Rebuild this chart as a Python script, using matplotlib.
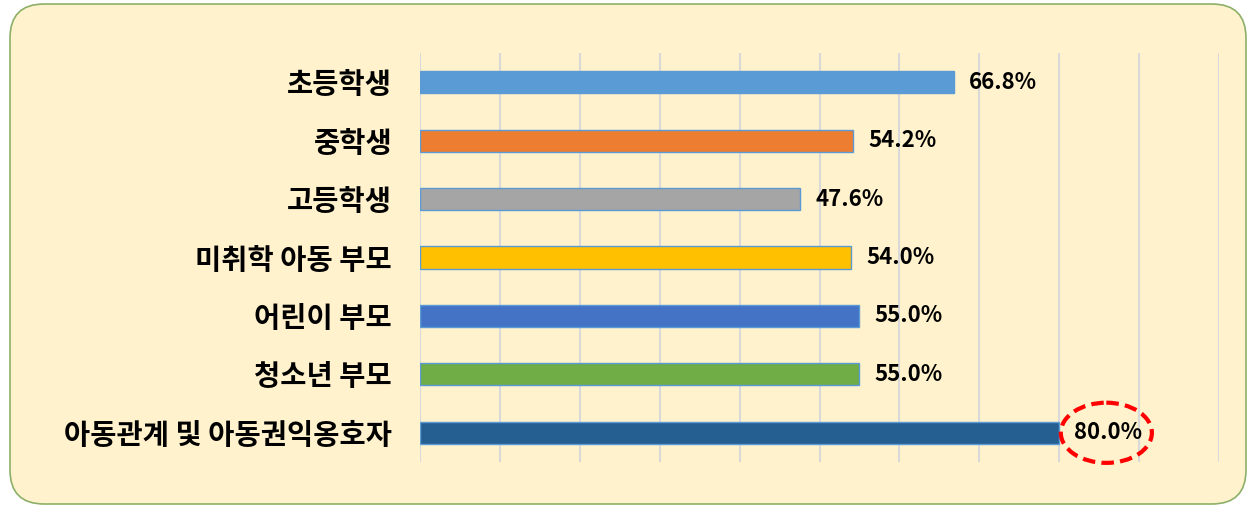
import matplotlib
matplotlib.use('Agg')
import numpy as np
from matplotlib import pyplot as plt
from matplotlib.patches import FancyBboxPatch, Ellipse

categories = ['초등학생', '중학생', '고등학생', '미취학 아동 부모', '어린이 부모', '청소년 부모', '아동관계 및 아동권익옹호자']
values = [66.8, 54.2, 47.6, 54.0, 55.0, 55.0, 80.0]
colors = ['#5B9BD5', '#ED7D31', '#A5A5A5', '#FFC000', '#4472C4', '#70AD47', '#255E91']

plt.rcParams['font.family'] = ['Noto Sans CJK KR', 'DejaVu Sans']

W, H = 1249, 508
fig = plt.figure(figsize=(W / 100, H / 100), dpi=100)
fig.patch.set_facecolor('white')

# background rounded box in pixel coords
bg = fig.add_axes([0, 0, 1, 1])
bg.set_xlim(0, W)
bg.set_ylim(H, 0)
bg.axis('off')
box = FancyBboxPatch((10, 4), 1236, 500, boxstyle='round,pad=0,rounding_size=34',
                     facecolor='#FFF2CC', edgecolor='#8DB068', linewidth=1.2)
bg.add_patch(box)

ax = fig.add_axes([420 / W, (H - 462) / H, (1219 - 420) / W, (462 - 53) / H])
ax.patch.set_alpha(0)
y = np.arange(len(categories))
ax.barh(y, values, height=0.38, color=colors, edgecolor='#5B9BD5', linewidth=1.0, zorder=3)
ax.set_xlim(0, 100)
ax.set_ylim(len(categories) - 0.5, -0.5)
ax.set_xticks(np.arange(0, 101, 10))
ax.grid(axis='x', color='#D9D9D9', linewidth=1.5, zorder=0)
ax.tick_params(axis='x', length=0, labelbottom=False)
ax.tick_params(axis='y', length=0, pad=20)
ax.set_yticks(y)
ax.set_yticklabels(categories, fontsize=20.5, fontweight='bold')
for s in ax.spines.values():
    s.set_visible(False)

for yi, v in zip(y, values):
    ax.text(v + 1.9, yi, f'{v:.1f}%', va='center', ha='left', fontsize=16, fontweight='bold', zorder=4)

# highlight the 80.0% label
ell = Ellipse((85.9, 6), 11.4, 1.03, fill=False, edgecolor='#FF0000', linewidth=3,
              linestyle=(0, (3, 1.5)), zorder=5, clip_on=False)
ax.add_patch(ell)

plt.savefig('out.png', dpi=100)
